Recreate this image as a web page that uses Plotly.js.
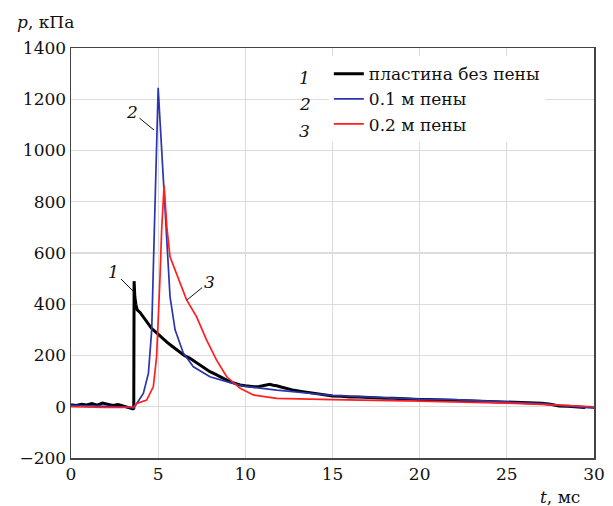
<!DOCTYPE html>
<html>
<head>
<meta charset="utf-8">
<script src="https://cdn.plot.ly/plotly-3.0.1.min.js"></script>
<style>body{margin:0;background:#fff}#chart{width:613px;height:506px}</style>
</head>
<body>
<div id="chart"></div>
<script>
// Series 1: plate without foam (black)
const t1 = [0, 0.3, 0.6, 0.9, 1.2, 1.5, 1.8, 2.1, 2.4, 2.7, 3.0, 3.3, 3.55, 3.6, 3.62, 3.66, 3.72, 3.8, 3.96, 4.2, 4.4, 4.63, 4.85, 5.1, 5.3, 5.5, 5.8, 6.06, 6.3, 6.5, 6.8, 7.02, 7.3, 7.5, 7.8, 7.97, 8.3, 8.5, 8.7, 8.93, 9.1, 9.3, 9.5, 9.7, 10.0, 10.2, 10.5, 10.8, 11.0, 11.2, 11.4, 11.6, 11.8, 12.1, 12.3, 12.6, 12.8, 13.2, 13.7, 14.1, 14.5, 15, 15.5, 16, 16.5, 17, 17.5, 18, 18.5, 19, 19.5, 20, 20.5, 21, 21.5, 22, 22.5, 23, 23.5, 24, 24.5, 25, 25.5, 26, 26.5, 27, 27.5, 28, 28.5, 29, 29.5];
const p1 = [8, 5, 10, 7, 12, 6, 14, 8, 5, 9, 4, -2, -8, -10, 490, 430, 400, 378, 368, 345, 325, 305, 292, 276, 262, 252, 236, 222, 212, 200, 190, 180, 166, 158, 146, 137, 126, 118, 110, 104, 98, 94, 88, 85, 82, 80, 78, 79, 82, 86, 88, 84, 82, 76, 72, 68, 64, 60, 55, 50, 46, 42, 41, 38, 38, 36, 35, 33, 33, 31, 30, 28, 28, 27, 26, 25, 25, 24, 23, 22, 21, 18, 17, 16, 15, 14, 10, 3, 2, 0, -3];

// Series 2: 0.1 m foam (blue)
const t2 = [0, 1, 2, 3, 3.6, 3.77, 4.15, 4.44, 4.63, 4.78, 4.9, 5.0, 5.12, 5.25, 5.49, 5.68, 5.97, 6.44, 7.02, 7.97, 8.93, 9.89, 11.8, 13.7, 15, 17, 20, 22, 25, 27, 28, 30];
const p2 = [5, 4, 2, 0, -5, 13, 52, 130, 300, 690, 1000, 1245, 1100, 950, 650, 430, 300, 210, 156, 117, 98, 81, 65, 52, 44, 38, 30, 28, 18, 12, 5, -5];

// Series 3: 0.2 m foam (red)
const t3 = [0, 1, 2, 3, 3.6, 3.77, 4.34, 4.72, 4.91, 5.1, 5.2, 5.34, 5.5, 5.68, 6.25, 6.63, 7.2, 7.78, 8.35, 8.93, 9.7, 10.46, 11.8, 13.7, 15, 20, 25, 28, 30];
const p3 = [0, -2, -3, -3, 0, 13, 26, 78, 195, 495, 690, 863, 700, 585, 482, 417, 352, 260, 182, 117, 72, 46, 33, 29, 28, 22, 14, 6, 0];

const names = ['пластина без пены', '0.1 м пены', '0.2 м пены'];
const colors = ['#000000', '#2b35b0', '#ff1f1f'];
const xTicks = [0, 5, 10, 15, 20, 25, 30];
const yTicks = [-200, 0, 200, 400, 600, 800, 1000, 1200, 1400];

const FONT = 'DejaVu Serif, Liberation Serif, serif';

const traces = [
  {x: t1, y: p1, name: names[0], mode: 'lines', line: {color: colors[0], width: 3}},
  {x: t2, y: p2, name: names[1], mode: 'lines', line: {color: colors[1], width: 1.7}},
  {x: t3, y: p3, name: names[2], mode: 'lines', line: {color: colors[2], width: 1.7}}
];

const axisCommon = {
  showline: true, mirror: true, linecolor: '#444', linewidth: 1.5,
  gridcolor: '#dcdcdc', gridwidth: 1.2, zeroline: false, ticks: '',
  tickfont: {family: FONT, size: 17, color: '#111'}
};

const FS = {family: FONT, size: 17, color: '#111'};

const layout = {
  width: 613, height: 506,
  margin: {l: 71, r: 19, t: 48, b: 48},
  paper_bgcolor: '#fff', plot_bgcolor: '#fff',
  font: {family: FONT, color: '#111'},
  showlegend: true,
  legend: {
    x: 0.493, y: 0.98, xanchor: 'left', yanchor: 'top',
    bgcolor: '#fff', borderwidth: 0,
    font: FS
  },
  xaxis: Object.assign({}, axisCommon, {range: [0, 30], tickvals: xTicks, ticktext: xTicks.map(String)}),
  yaxis: Object.assign({}, axisCommon, {range: [-200, 1400], tickvals: yTicks, ticktext: yTicks.map(v => v < 0 ? '\u2212' + Math.abs(v) : String(v))}),
  annotations: [
    {xref: 'paper', yref: 'paper', x: -0.107, y: 1.063, xanchor: 'left', yanchor: 'middle', showarrow: false,
     text: '<i>p</i>, кПа', font: FS},
    {xref: 'paper', yref: 'paper', x: 0.935, y: -0.095, xanchor: 'center', yanchor: 'middle', showarrow: false,
     text: '<i>t</i>, мс', font: FS},
    // legend numbers
    {xref: 'paper', yref: 'paper', x: 0.447, y: 0.926, xanchor: 'center', yanchor: 'middle', showarrow: false,
     text: '<i>1</i>', font: FS},
    {xref: 'paper', yref: 'paper', x: 0.447, y: 0.863, xanchor: 'center', yanchor: 'middle', showarrow: false,
     text: '<i>2</i>', font: FS},
    {xref: 'paper', yref: 'paper', x: 0.447, y: 0.798, xanchor: 'center', yanchor: 'middle', showarrow: false,
     text: '<i>3</i>', font: FS},
    // curve labels with leader lines
    {x: 3.61, y: 448, text: '<i>1</i>', showarrow: true, arrowhead: 0, arrowwidth: 1, arrowcolor: '#111',
     ax: -20, ay: -20, font: FS},
    {x: 4.76, y: 1080, text: '<i>2</i>', showarrow: true, arrowhead: 0, arrowwidth: 1, arrowcolor: '#111',
     ax: -22, ay: -18, font: FS},
    {x: 6.66, y: 417, text: '<i>3</i>', showarrow: true, arrowhead: 0, arrowwidth: 1, arrowcolor: '#111',
     ax: 22, ay: -18, font: FS}
  ]
};

Plotly.newPlot('chart', traces, layout, {displayModeBar: false, staticPlot: true});
</script>
</body>
</html>
